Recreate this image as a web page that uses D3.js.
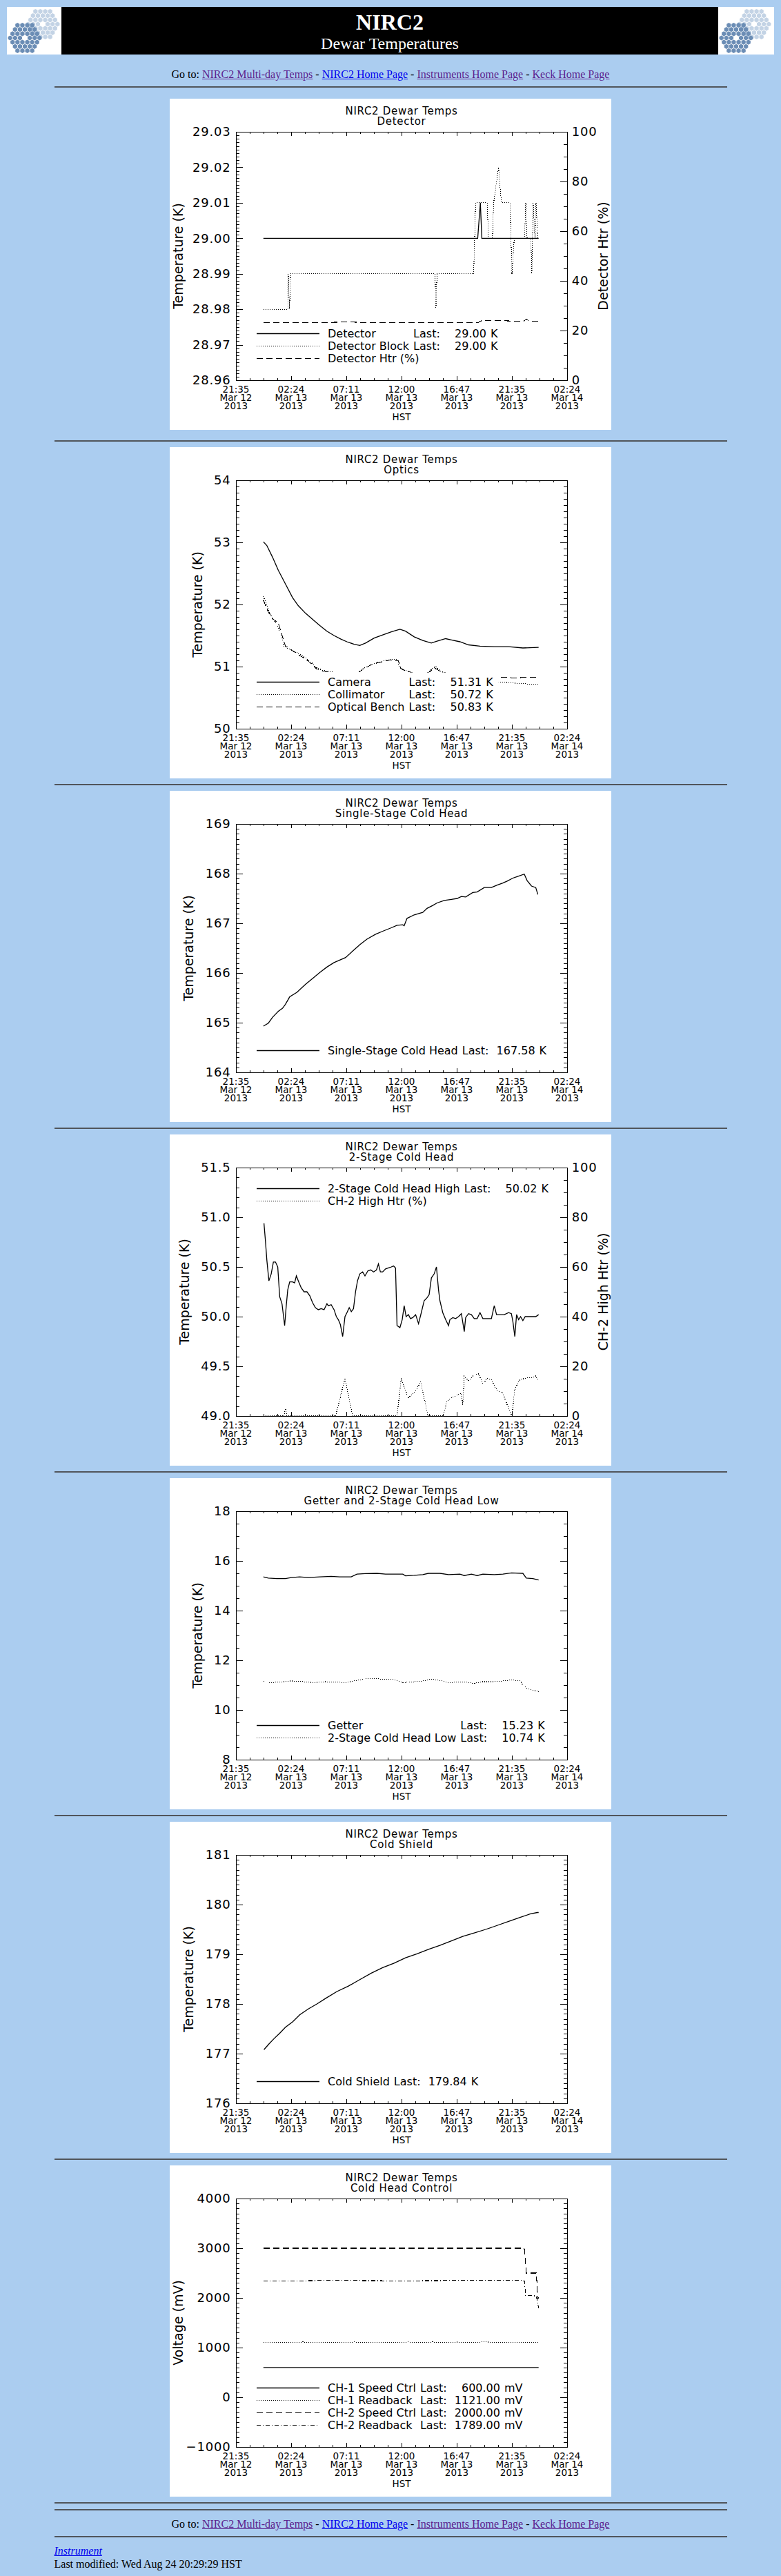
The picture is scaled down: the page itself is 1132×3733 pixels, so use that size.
<!DOCTYPE html>
<html lang="en">
<head>
<meta charset="utf-8">
<title>NIRC2 Dewar Temperatures</title>
<script src="https://cdn.jsdelivr.net/npm/d3@7"></script>
<style>
  body { margin: 0; background: #abcdf0; font: 16px "Liberation Serif", "Times New Roman", serif; color: #000; }
  a { color: #5c1f8e; }
  a.fresh { color: #0000ee; }
  #banner { display: flex; margin: 10px 10px 0; height: 69px; }
  #banner .logo { width: 79px; background: #fff; overflow: hidden; }
  #banner .logo svg { display: block; }
  #banner .mid { flex: 1; background: #000; color: #fff; text-align: center; }
  #banner h1 { margin: 0; padding-top: 4px; font-size: 32px; line-height: 36px; }
  #banner h2 { margin: 0; font-size: 24px; font-weight: normal; line-height: 26px; }
  .goto { text-align: center; margin: 0; line-height: 20px; }
  hr { border: 0; height: 2px; background: #50555b; width: 975px; margin: 8px auto; }
  hr.top { margin: 7px auto 16px; }
  hr.wide { margin-top: 15px; }
  .panel { width: 640px; height: 480px; margin: 0 auto; background: #fff; }
  .panel svg { display: block; overflow: hidden; }
  address { width: 975px; margin: 10px auto 0; font-style: normal; line-height: 19px; }
  address a { font-style: italic; color: #0000ee; }
</style>
</head>
<body>
<div id="banner">
  <div class="logo"></div>
  <div class="mid"><h1>NIRC2</h1><h2>Dewar Temperatures</h2></div>
  <div class="logo" style="width:81px"></div>
</div>
<p class="goto" style="margin-top:19px">Go to: <a href="#">NIRC2 Multi-day Temps</a> - <a class="fresh" href="#">NIRC2 Home Page</a> - <a href="#">Instruments Home Page</a> - <a href="#">Keck Home Page</a></p>
<hr class="top">
<div id="charts"></div>
<hr>
<hr>
<p class="goto" style="margin-top:10px">Go to: <a href="#">NIRC2 Multi-day Temps</a> - <a class="fresh" href="#">NIRC2 Home Page</a> - <a href="#">Instruments Home Page</a> - <a href="#">Keck Home Page</a></p>
<hr style="margin-top:7px;margin-bottom:0">
<address><a href="#">Instrument</a><br>Last modified: Wed Aug 24 20:29:29 HST</address>

<script>
// time axis: hours counted from Mar 12 2013 00:00 HST
var timeDomain = [21 + 35 / 60, 48 + 2.4];
var tickTimes = ["21:35", "02:24", "07:11", "12:00", "16:47", "21:35", "02:24"];
var tickDates = ["Mar 12", "Mar 13", "Mar 13", "Mar 13", "Mar 13", "Mar 13", "Mar 14"];
var tickYears = ["2013", "2013", "2013", "2013", "2013", "2013", "2013"];

// Detector
var detector = [[23.97,29.00],[42.62,29.00],[42.85,29.01],[42.98,29.00],[47.92,29.00]];
var detectorBlock = [[23.97,28.98],[26.09,28.98],[26.14,28.99],[26.24,28.98],[26.34,28.99],[38.91,28.99],[38.98,28.98],
  [39.08,28.99],[42.27,28.99],[42.35,29.00],[42.44,29.01],[43.44,29.01],[43.56,29.00],[43.90,29.00],[44.01,29.01],
  [44.43,29.02],[44.68,29.01],[45.43,29.01],[45.60,28.99],[45.80,29.00],[46.70,29.00],[46.80,29.01],[46.92,29.00],
  [47.25,29.00],[47.33,28.99],[47.45,29.01],[47.60,29.00],[47.70,29.01],[47.84,29.00],[47.92,29.00]];
var detectorHtr = [[23.97,23.3],[28.0,23.2],[31.5,23.4],[33.0,23.2],[38.0,23.3],[42.7,23.3],[43.0,24.1],[44.5,24.0],
  [46.6,23.7],[46.85,24.6],[47.1,23.7],[47.92,23.7]];

// Optics
var camera = [[23.97,53.01],[24.27,52.95],[24.77,52.76],[25.27,52.55],[25.89,52.33],[26.51,52.11],[27.01,51.98],
  [27.63,51.86],[28.25,51.76],[28.88,51.66],[29.50,51.57],[30.12,51.50],[30.74,51.44],[31.24,51.40],[31.86,51.36],
  [32.36,51.34],[32.86,51.38],[33.61,51.46],[34.35,51.51],[35.10,51.56],[35.85,51.60],[36.34,51.57],[37.09,51.48],
  [37.84,51.42],[38.58,51.38],[39.08,51.41],[39.83,51.45],[40.33,51.43],[41.07,51.40],[41.82,51.35],[42.82,51.33],
  [44.06,51.32],[45.31,51.32],[46.55,51.30],[47.92,51.31]];
var collimator = [[23.97,52.13],[24.15,52.05],[24.52,51.85],[24.84,51.76],[25.19,51.66],[25.52,51.51],[25.77,51.33],
  [26.14,51.29],[26.64,51.25],[27.13,51.20],[27.63,51.14],[28.13,51.07],[28.63,50.98],[29.13,50.94],[29.87,50.92],
  [30.62,50.86],[31.37,50.81],[31.86,50.83],[32.36,50.92],[32.86,50.99],[33.61,51.05],[34.35,51.09],[35.10,51.12],
  [35.60,51.12],[35.85,50.98],[36.34,50.94],[37.09,50.88],[37.84,50.83],[38.59,50.96],[38.96,51.00],[39.33,50.94],
  [40.08,50.85],[41.07,50.79],[42.32,50.77],[43.56,50.75],[44.81,50.75],[46.05,50.73],[47.05,50.72],[47.92,50.72]];
var opticalBench = [[23.97,52.07],[24.40,51.88],[24.77,51.77],[25.27,51.70],[25.64,51.48],[25.89,51.33],[26.39,51.27],
  [27.13,51.18],[27.88,51.09],[28.63,50.96],[29.37,50.92],[30.37,50.88],[31.37,50.85],[32.11,50.88],[32.61,50.96],
  [33.36,51.03],[34.10,51.07],[35.10,51.11],[35.72,51.09],[35.97,50.96],[36.59,50.92],[37.34,50.88],[38.34,50.90],
  [38.83,50.98],[39.21,50.94],[40.08,50.88],[41.32,50.85],[42.82,50.83],[44.31,50.83],[45.80,50.82],[47.92,50.83]];

// Single-stage cold head
var singleStage = [[23.97,164.93],[24.40,164.99],[24.77,165.11],[25.27,165.23],[25.64,165.29],[25.89,165.37],
  [26.26,165.52],[26.89,165.61],[27.63,165.77],[28.25,165.89],[28.88,166.01],[29.50,166.12],[30.12,166.21],
  [31.12,166.31],[31.74,166.44],[32.36,166.57],[32.98,166.68],[33.73,166.78],[34.35,166.84],[35.10,166.91],
  [35.60,166.96],[36.10,166.97],[36.22,166.95],[36.47,167.10],[37.09,167.17],[37.84,167.22],[38.21,167.30],
  [38.71,167.36],[39.08,167.41],[39.71,167.46],[40.33,167.48],[40.83,167.50],[41.20,167.54],[41.57,167.53],
  [42.19,167.62],[42.57,167.63],[43.19,167.72],[43.81,167.72],[44.31,167.77],[44.81,167.81],[45.18,167.85],
  [45.68,167.91],[46.05,167.94],[46.67,167.99],[46.92,167.86],[47.30,167.75],[47.67,167.72],[47.80,167.62],[47.84,167.58]];

// 2-stage cold head
var coldHeadHigh = [[24.02,50.94],[24.15,50.76],[24.27,50.57],[24.45,50.36],[24.65,50.43],[24.84,50.55],[25.02,50.55],
  [25.22,50.50],[25.39,50.20],[25.59,50.13],[25.82,49.91],[25.96,50.11],[26.09,50.27],[26.26,50.35],[26.51,50.35],
  [26.69,50.34],[26.84,50.41],[27.01,50.36],[27.26,50.29],[27.51,50.25],[27.76,50.25],[28.01,50.21],[28.25,50.14],
  [28.50,50.09],[28.75,50.07],[29.00,50.08],[29.25,50.07],[29.50,50.13],[29.62,50.11],[29.87,50.12],[30.12,50.07],
  [30.32,50.00],[30.49,49.97],[30.67,49.92],[30.87,49.80],[31.07,50.00],[31.24,50.04],[31.44,50.09],[31.62,50.05],
  [31.81,50.08],[31.99,50.25],[32.16,50.36],[32.36,50.43],[32.61,50.45],[32.81,50.41],[33.06,50.46],[33.31,50.47],
  [33.56,50.45],[33.81,50.47],[33.98,50.53],[34.15,50.45],[34.35,50.45],[34.60,50.48],[34.85,50.49],[35.10,50.50],
  [35.30,50.51],[35.47,50.49],[35.60,49.91],[35.85,49.89],[36.05,49.97],[36.22,50.11],[36.39,50.00],[36.59,50.02],
  [36.77,49.98],[36.97,49.99],[37.22,50.02],[37.47,49.93],[37.71,50.04],[37.96,50.16],[38.21,50.19],[38.39,50.22],
  [38.59,50.39],[38.83,50.43],[39.03,50.50],[39.21,50.27],[39.33,50.16],[39.58,50.04],[39.83,49.97],[40.08,49.91],
  [40.20,49.97],[40.45,49.99],[40.70,49.98],[40.95,50.00],[41.20,50.03],[41.45,49.85],[41.57,49.99],[41.82,50.03],
  [42.07,50.02],[42.32,49.98],[42.57,49.98],[42.82,50.04],[43.07,49.98],[43.81,49.98],[44.06,50.11],[44.26,50.02],
  [44.93,50.02],[45.31,50.04],[45.55,50.03],[45.68,49.95],[45.85,49.80],[46.00,50.02],[46.18,49.97],[46.35,50.00],
  [46.55,49.96],[46.75,50.00],[47.67,50.00],[47.92,50.02]];
var ch2HighHtr = [[23.97,0],[25.77,0],[25.89,3],[26.01,0],[30.25,0],[31.07,15.2],[31.74,0],[35.60,0],[35.97,15.2],
  [36.59,7.3],[37.22,10.1],[37.66,13.8],[38.29,0],[39.58,0],[39.95,5.9],[40.33,7.3],[40.83,8.4],[41.20,9.2],
  [41.32,4.5],[41.45,16.1],[41.82,14.3],[42.19,16.1],[42.69,17.0],[43.07,12.9],[43.44,15.2],[43.81,14.7],
  [44.31,10.1],[44.81,9.2],[45.26,3.6],[45.60,0],[45.85,11.0],[46.30,14.7],[46.80,15.2],[47.42,15.6],[47.67,16.1],[47.92,14.3]];

// Getter and 2-stage cold head low
var getter = [[23.97,15.36],[24.40,15.31],[25.14,15.29],[25.89,15.29],[26.39,15.33],[27.13,15.36],[27.88,15.33],
  [28.88,15.36],[29.87,15.38],[30.62,15.36],[31.61,15.36],[32.11,15.47],[32.86,15.49],[33.85,15.50],[34.60,15.47],
  [35.35,15.47],[36.10,15.47],[36.34,15.40],[37.09,15.42],[37.84,15.45],[38.34,15.50],[39.33,15.50],[40.08,15.45],
  [41.07,15.47],[41.45,15.41],[42.07,15.47],[42.57,15.41],[43.07,15.47],[44.06,15.45],[44.81,15.47],[45.55,15.52],
  [46.55,15.50],[46.85,15.31],[47.42,15.29],[47.92,15.23]];
var coldHeadLow = [[23.97,11.17],[24.40,11.10],[25.39,11.12],[26.39,11.17],[27.38,11.14],[28.38,11.10],[29.37,11.14],
  [30.37,11.12],[31.12,11.10],[31.86,11.17],[32.86,11.26],[33.85,11.26],[34.60,11.23],[35.35,11.23],[36.10,11.10],
  [37.09,11.14],[37.84,11.17],[38.59,11.24],[39.33,11.19],[40.08,11.10],[40.83,11.12],[41.57,11.12],[42.32,11.07],
  [43.07,11.14],[44.06,11.14],[44.81,11.17],[45.55,11.21],[46.30,11.17],[46.67,10.94],[47.05,10.84],[47.92,10.74]];

// Cold shield
var coldShield = [[24.02,177.08],[24.40,177.18],[24.89,177.30],[25.39,177.41],[25.89,177.53],[26.51,177.64],
  [27.13,177.78],[27.88,177.90],[28.63,178.00],[29.37,178.11],[30.37,178.25],[31.37,178.36],[32.36,178.49],
  [33.36,178.62],[34.35,178.73],[35.35,178.82],[36.34,178.93],[37.34,179.01],[38.34,179.10],[39.33,179.18],
  [40.33,179.27],[41.32,179.36],[42.32,179.43],[43.31,179.50],[44.31,179.58],[45.31,179.66],[46.30,179.74],
  [47.17,179.81],[47.80,179.84],[47.92,179.84]];

// Cold head control
var ch1Speed = [[23.97,600],[47.92,600]];
var ch1Readback = [[23.97,1102],[27.3,1105],[27.4,1118],[27.6,1104],[31.8,1104],[31.9,1118],[32.1,1104],[36.3,1104],
  [36.5,1118],[36.8,1104],[38.5,1104],[38.7,1118],[38.9,1104],[40.7,1104],[40.9,1115],[41.1,1104],[42.8,1104],
  [43.0,1120],[43.4,1121],[43.6,1104],[47.8,1104],[47.92,1121]];
var ch2Speed = [[23.97,3000],[46.67,3000],[46.85,2500],[47.72,2500],[47.85,2000],[47.92,2000]];
var ch2Readback = [[23.97,2340],[30.0,2350],[36.0,2345],[42.0,2350],[46.67,2350],[46.80,2050],[47.72,2040],[47.92,1789]];

var charts = [
  { sub: "Detector", y: { domain: [28.96, 29.03], step: 0.01, minor: 10, fmt: ".2f", title: "Temperature (K)" },
    right: { domain: [0, 100], step: 20, minor: 4, fmt: "d", title: "Detector Htr (%)" }, unit: "K",
    series: [{ name: "Detector", data: detector, style: "solid", last: true },
             { name: "Detector Block", data: detectorBlock, style: "dotted", last: true },
             { name: "Detector Htr (%)", data: detectorHtr, style: "dashed", axis: "right" }] },
  { sub: "Optics", y: { domain: [50, 54], step: 1, minor: 10, fmt: "d", title: "Temperature (K)" }, unit: "K",
    series: [{ name: "Camera", data: camera, style: "solid", last: true },
             { name: "Collimator", data: collimator, style: "dotted", last: true },
             { name: "Optical Bench", data: opticalBench, style: "dashed", last: true }] },
  { sub: "Single-Stage Cold Head", y: { domain: [164, 169], step: 1, minor: 10, fmt: "d", title: "Temperature (K)" }, unit: "K",
    series: [{ name: "Single-Stage Cold Head", data: singleStage, style: "solid", last: true }] },
  { sub: "2-Stage Cold Head", y: { domain: [49, 51.5], step: 0.5, minor: 5, fmt: ".1f", title: "Temperature (K)" },
    right: { domain: [0, 100], step: 20, minor: 4, fmt: "d", title: "CH-2 High Htr (%)" }, unit: "K", legendTop: true,
    series: [{ name: "2-Stage Cold Head High", data: coldHeadHigh, style: "solid", last: true },
             { name: "CH-2 High Htr (%)", data: ch2HighHtr, style: "dotted", axis: "right" }] },
  { sub: "Getter and 2-Stage Cold Head Low", y: { domain: [8, 18], step: 2, minor: 4, fmt: "d", title: "Temperature (K)" }, unit: "K",
    series: [{ name: "Getter", data: getter, style: "solid", last: true },
             { name: "2-Stage Cold Head Low", data: coldHeadLow, style: "dotted", last: true }] },
  { sub: "Cold Shield", y: { domain: [176, 181], step: 1, minor: 10, fmt: "d", title: "Temperature (K)" }, unit: "K",
    series: [{ name: "Cold Shield", data: coldShield, style: "solid", last: true }] },
  { sub: "Cold Head Control", y: { domain: [-1000, 4000], step: 1000, minor: 10, fmt: "d", title: "Voltage (mV)" }, unit: "mV",
    series: [{ name: "CH-1 Speed Ctrl", data: ch1Speed, style: "solid", last: true },
             { name: "CH-1 Readback", data: ch1Readback, style: "dotted", last: true },
             { name: "CH-2 Speed Ctrl", data: ch2Speed, style: "dashed", last: true },
             { name: "CH-2 Readback", data: ch2Readback, style: "dashdot", last: true }] }
];

/* plot geometry (IDL position [0.15,0.15,0.9,0.9] on a 640x480 window) */
var W = 640, H = 480,
  box = { left: 96, right: 576, top: 48, bottom: 408 },
  yTick = 9.6, xTick = 6,
  dashes = { solid: null, dotted: "1,2", dashed: "9,5", dashdot: "6,3,1,3" };

function ticks(spec) {
  var n = Math.round((spec.domain[1] - spec.domain[0]) / spec.step), major = [], minor = [];
  for (var i = 0; i <= n; i++) {
    major.push(spec.domain[0] + i * spec.step);
    if (i < n) for (var j = 1; j < spec.minor; j++) minor.push(spec.domain[0] + (i + j / spec.minor) * spec.step);
  }
  return { major: major, minor: minor };
}

function styleAxis(g) {
  g.attr("font-size", null).attr("font-family", null).attr("shape-rendering", "crispEdges");
  g.selectAll("text").attr("font-size", 18).attr("letter-spacing", "0.8px");
}

// IDL line styles: solid is drawn smooth, the patterned ones pixel-sharp
function lineStyle(sel, style) {
  sel.attr("stroke", "#000")
    .attr("stroke-width", style === "solid" ? 1.3 : 1.1)
    .attr("stroke-dasharray", dashes[style])
    .attr("shape-rendering", style === "solid" ? null : "crispEdges");
}

function drawChart(cfg, idx) {
  var svg = d3.select("#charts").append("div").attr("class", "panel")
    .append("svg").attr("width", W).attr("height", H)
    .attr("font-family", '"DejaVu Sans", sans-serif').attr("fill", "#000");

  var x = d3.scaleLinear().domain(timeDomain).range([box.left, box.right]);
  var y = d3.scaleLinear().domain(cfg.y.domain).range([box.bottom, box.top]);
  var yR = cfg.right ? d3.scaleLinear().domain(cfg.right.domain).range([box.bottom, box.top]) : null;

  svg.append("clipPath").attr("id", "clip" + idx).append("rect")
    .attr("x", box.left).attr("y", box.top).attr("width", box.right - box.left).attr("height", box.bottom - box.top);

  // titles
  svg.append("text").attr("x", 336).attr("y", 18).attr("dy", "0.35em").attr("text-anchor", "middle")
    .attr("font-size", 15).attr("letter-spacing", "0.7px").text("NIRC2 Dewar Temps");
  svg.append("text").attr("x", 336).attr("y", 33).attr("dy", "0.35em").attr("text-anchor", "middle")
    .attr("font-size", 15).attr("letter-spacing", "0.7px").text(cfg.sub);

  // data
  var lines = svg.append("g").attr("clip-path", "url(#clip" + idx + ")");
  cfg.series.forEach(function(s) {
    var ys = s.axis === "right" ? yR : y;
    lines.append("path").datum(s.data)
      .attr("fill", "none")
      .call(lineStyle, s.style)
      .attr("d", d3.line().x(function(d) { return x(d[0]); }).y(function(d) { return ys(d[1]); }));
  });

  // legend (IDL legend erases the area behind it)
  var n = cfg.series.length,
    rowY = function(i) { return cfg.legendTop ? 78.5 + 18 * i : 376.5 - 18 * (n - 1 - i); },
    meas = svg.append("text").attr("font-size", 16).style("white-space", "pre"),
    tw = function(s) { return meas.text(s).node().getComputedTextLength(); },
    nameX = 229, withLast = cfg.series.filter(function(s) { return s.last; }),
    vals = withLast.map(function(s) { return s.data[s.data.length - 1][1].toFixed(2); }),
    lastX = nameX + d3.max(withLast, function(s) { return tw(s.name); }) + 6,
    fieldW = d3.max(vals, function(v) { return tw(v.replace(/./g, "0").padStart(6, "0")); }),
    numEnd = lastX + tw("Last:") + 6 + fieldW,
    rightEdge = d3.max(cfg.series, function(s) { return nameX + tw(s.name); });
  if (withLast.length) rightEdge = Math.max(rightEdge, numEnd + 6 + tw(cfg.unit));
  meas.remove();

  svg.append("rect").attr("fill", "#fff")
    .attr("x", 118).attr("y", rowY(0) - 14)
    .attr("width", rightEdge + 8 - 118).attr("height", rowY(n - 1) - rowY(0) + 26);

  // axes
  var yt = ticks(cfg.y), xt = ticks({ domain: timeDomain, step: (timeDomain[1] - timeDomain[0]) / 6, minor: 4 });

  var leftG = svg.append("g").attr("transform", "translate(" + box.left + ",0)")
    .call(d3.axisLeft(y).tickValues(yt.major).tickSize(-yTick).tickSizeOuter(0).tickPadding(7.5).tickFormat(d3.format(cfg.y.fmt)));
  styleAxis(leftG);
  svg.append("g").attr("transform", "translate(" + box.left + ",0)")
    .call(d3.axisLeft(y).tickValues(yt.minor).tickSize(-yTick / 2).tickFormat(""))
    .call(function(g) { g.select(".domain").remove(); styleAxis(g); });

  var rightG;
  if (cfg.right) {
    var rt = ticks(cfg.right);
    rightG = svg.append("g").attr("transform", "translate(" + box.right + ",0)")
      .call(d3.axisRight(yR).tickValues(rt.major).tickSize(-yTick).tickSizeOuter(0).tickPadding(6.7).tickFormat(d3.format(cfg.right.fmt)));
    styleAxis(rightG);
    svg.append("g").attr("transform", "translate(" + box.right + ",0)")
      .call(d3.axisRight(yR).tickValues(rt.minor).tickSize(-yTick / 2).tickFormat(""))
      .call(function(g) { g.select(".domain").remove(); styleAxis(g); });
  } else {
    svg.append("g").attr("transform", "translate(" + box.right + ",0)")
      .call(d3.axisRight(y).tickValues(yt.major).tickSize(-yTick).tickSizeOuter(0).tickFormat("")).call(styleAxis);
    svg.append("g").attr("transform", "translate(" + box.right + ",0)")
      .call(d3.axisRight(y).tickValues(yt.minor).tickSize(-yTick / 2).tickFormat(""))
      .call(function(g) { g.select(".domain").remove(); styleAxis(g); });
  }

  [["axisBottom", box.bottom], ["axisTop", box.top]].forEach(function(a) {
    svg.append("g").attr("transform", "translate(0," + a[1] + ")")
      .call(d3[a[0]](x).tickValues(xt.major).tickSize(-xTick).tickSizeOuter(0).tickFormat("")).call(styleAxis);
    svg.append("g").attr("transform", "translate(0," + a[1] + ")")
      .call(d3[a[0]](x).tickValues(xt.minor).tickSize(-xTick / 2).tickFormat(""))
      .call(function(g) { g.select(".domain").remove(); styleAxis(g); });
  });

  // date labels under the x axis
  var xl = svg.append("g").attr("font-size", 13.5).attr("text-anchor", "middle");
  xt.major.forEach(function(t, i) {
    [tickTimes[i], tickDates[i], tickYears[i]].forEach(function(s, r) {
      xl.append("text").attr("x", x(t)).attr("y", 421.5 + 12 * r).attr("dy", "0.35em").text(s);
    });
  });
  xl.append("text").attr("x", 336).attr("y", 461).attr("dy", "0.35em").text("HST");

  // axis titles: pushed out past the tick labels, but kept inside the window
  var lb = leftG.node().getBBox(), lx = Math.max(box.left + lb.x - 24, 12);
  svg.append("text").attr("font-size", 19).attr("text-anchor", "middle").attr("dy", "0.35em")
    .attr("transform", "translate(" + lx + ",228) rotate(-90)").text(cfg.y.title);
  if (rightG) {
    var rb = rightG.node().getBBox(), rx = Math.min(box.right + rb.x + rb.width + 16.5, W - 12);
    svg.append("text").attr("font-size", 19).attr("text-anchor", "middle").attr("dy", "0.35em")
      .attr("transform", "translate(" + rx + ",228) rotate(-90)").text(cfg.right.title);
  }

  // legend entries
  var lg = svg.append("g").attr("font-size", 16);
  cfg.series.forEach(function(s, i) {
    var ry = rowY(i);
    lg.append("line").attr("x1", 126).attr("x2", 217).attr("y1", ry).attr("y2", ry).call(lineStyle, s.style);
    lg.append("text").attr("x", nameX).attr("y", ry).attr("dy", "0.35em").text(s.name);
    if (s.last) {
      lg.append("text").attr("x", lastX).attr("y", ry).attr("dy", "0.35em").text("Last:");
      lg.append("text").attr("x", numEnd).attr("y", ry).attr("dy", "0.35em").attr("text-anchor", "end")
        .text(s.data[s.data.length - 1][1].toFixed(2));
      lg.append("text").attr("x", numEnd + 6).attr("y", ry).attr("dy", "0.35em").text(cfg.unit);
    }
  });
}

charts.forEach(function(cfg, i) {
  if (i > 0) d3.select("#charts").append("hr").attr("class", i === 1 ? "wide" : null);
  drawChart(cfg, i);
});

// Keck twin-mirror logos: two 36-segment hexagonal mirrors
function hexPath(cx, cy, r) {
  return d3.range(6).map(function(k) {
    var a = Math.PI / 180 * (60 * k - 30);
    return (k ? "L" : "M") + (cx + r * Math.cos(a)).toFixed(2) + "," + (cy + r * Math.sin(a)).toFixed(2);
  }).join("") + "Z";
}
function mirror(g, cx, cy, fill) {
  var s = 4.1, w = Math.sqrt(3) * s;
  for (var q = -3; q <= 3; q++) for (var r = -3; r <= 3; r++) {
    var ring = Math.max(Math.abs(q), Math.abs(r), Math.abs(q + r));
    if (ring === 0 || ring > 3) continue;
    g.append("path").attr("fill", fill).attr("d", hexPath(cx + w * (q + r / 2), cy + 1.5 * s * r, s * 0.88));
  }
}
d3.selectAll("#banner .logo").each(function() {
  var g = d3.select(this).append("svg").attr("width", 81).attr("height", 69);
  mirror(g, 52, 25, "#c3d3e5");
  mirror(g, 26, 45, "#6b8db5");
});
</script>
</body>
</html>
